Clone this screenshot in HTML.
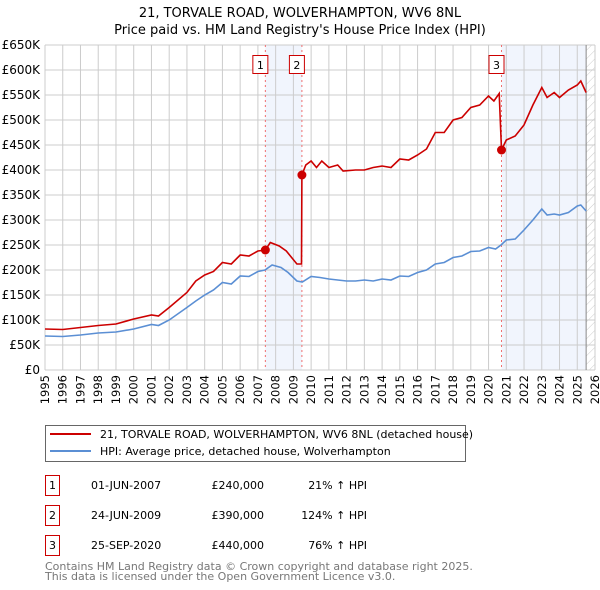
<!DOCTYPE html>
<html><head><meta charset="utf-8"><style>
body{margin:0;background:#fff;}
svg{display:block;font-family:"DejaVu Sans","Liberation Sans",sans-serif;}
</style></head><body>
<svg id="chart" width="600" height="590" viewBox="0 0 600 590">
<defs><pattern id="hatch" width="6" height="6" patternUnits="userSpaceOnUse" patternTransform="rotate(45)"><line x1="0" y1="0" x2="0" y2="6" stroke="#ccc" stroke-width="1"/></pattern></defs>
<text x="300" y="17" text-anchor="middle" font-size="13">21, TORVALE ROAD, WOLVERHAMPTON, WV6 8NL</text>
<text x="300" y="34" text-anchor="middle" font-size="13">Price paid vs. HM Land Registry's House Price Index (HPI)</text>
<g id="plot"></g>
<g>
<rect x="45.5" y="425.5" width="420" height="36" fill="#fff" stroke="#666"/>
<line x1="50" y1="434" x2="91" y2="434" stroke="#cc0000" stroke-width="2"/>
<text x="100" y="438" font-size="11">21, TORVALE ROAD, WOLVERHAMPTON, WV6 8NL (detached house)</text>
<line x1="50" y1="451" x2="91" y2="451" stroke="#5b8fd4" stroke-width="2"/>
<text x="100" y="455" font-size="11">HPI: Average price, detached house, Wolverhampton</text>
</g>
<g font-size="11">
<rect x="45.5" y="475.5" width="14" height="20" fill="#fff" stroke="#cc0000"/><text x="52.5" y="489" text-anchor="middle">1</text>
<text x="91" y="489">01-JUN-2007</text><text x="264" y="489" text-anchor="end">£240,000</text><text x="367" y="489" text-anchor="end">21% ↑ HPI</text>
<rect x="45.5" y="505.5" width="14" height="20" fill="#fff" stroke="#cc0000"/><text x="52.5" y="519" text-anchor="middle">2</text>
<text x="91" y="519">24-JUN-2009</text><text x="264" y="519" text-anchor="end">£390,000</text><text x="367" y="519" text-anchor="end">124% ↑ HPI</text>
<rect x="45.5" y="535.5" width="14" height="20" fill="#fff" stroke="#cc0000"/><text x="52.5" y="549" text-anchor="middle">3</text>
<text x="91" y="549">25-SEP-2020</text><text x="264" y="549" text-anchor="end">£440,000</text><text x="367" y="549" text-anchor="end">76% ↑ HPI</text>
</g>
<text x="45" y="570" font-size="11" fill="#777">Contains HM Land Registry data © Crown copyright and database right 2025.</text>
<text x="45" y="580" font-size="11" fill="#777">This data is licensed under the Open Government Licence v3.0.</text>
</svg>
<script>
const hpiYears=[1995,1996,1997,1998,1999,2000,2001,2001.4,2002,2003,2003.5,2004,2004.5,2005,2005.5,2006,2006.5,2007,2007.4,2007.8,2008.3,2008.7,2009.2,2009.5,2010,2010.5,2011,2011.5,2012,2012.5,2013,2013.5,2014,2014.5,2015,2015.5,2016,2016.5,2017,2017.5,2018,2018.5,2019,2019.5,2020,2020.4,2020.7,2021,2021.5,2022,2022.5,2023,2023.3,2023.7,2024,2024.5,2025,2025.2,2025.5];
const hpiValues=[68,67,70,74,76,82,91,89,100,125,138,150,160,175,172,188,187,197,200,210,205,195,178,176,187,185,182,180,178,178,180,178,182,180,188,187,195,200,212,215,225,228,237,238,245,242,250,260,262,280,300,322,310,312,310,315,328,330,318];
const redYears=[1995,1996,1997,1998,1999,2000,2001,2001.4,2002,2003,2003.5,2004,2004.5,2005,2005.5,2006,2006.5,2007,2007.42,2007.7,2008.2,2008.6,2009.2,2009.46,2009.48,2009.7,2010,2010.3,2010.6,2011,2011.5,2011.8,2012.5,2013,2013.5,2014,2014.5,2015,2015.5,2016,2016.5,2017,2017.5,2018,2018.5,2019,2019.5,2020,2020.3,2020.6,2020.73,2021,2021.5,2022,2022.5,2023,2023.3,2023.7,2024,2024.5,2025,2025.2,2025.5];
const redValues=[82,81,85,89,92,102,110,108,125,155,178,190,197,215,212,230,228,238,240,255,248,238,212,212,390,410,418,405,418,405,410,398,400,400,405,408,405,422,420,430,442,475,475,500,505,525,530,548,538,553,440,460,468,490,530,565,545,555,545,560,570,578,555];
const saleYears=[2007.42,2009.48,2020.73];
const saleValues=[240,390,440];
const saleLabels=["1","2","3"];
const yTicks=[0,50,100,150,200,250,300,350,400,450,500,550,600,650];
const xTicks=[1995,1996,1997,1998,1999,2000,2001,2002,2003,2004,2005,2006,2007,2008,2009,2010,2011,2012,2013,2014,2015,2016,2017,2018,2019,2020,2021,2022,2023,2024,2025,2026];
const X0=45,X1=595,Y0=370,Y1=45;
const xs=y=>X0+(y-1995)/(2026-1995)*(X1-X0);
const ys=v=>Y0-v/650*(Y0-Y1);
const NS="http://www.w3.org/2000/svg";
const g=document.getElementById('plot');
function mk(t,a){const e=document.createElementNS(NS,t);for(const k in a)e.setAttribute(k,a[k]);g.appendChild(e);return e;}
// shading
let e=mk('rect',{x:xs(saleYears[0]),y:Y1,width:xs(saleYears[1])-xs(saleYears[0]),height:Y0-Y1,fill:'#eef3fc',opacity:0.8});


e=mk('rect',{x:xs(saleYears[2]),y:Y1,width:xs(2025.5)-xs(saleYears[2]),height:Y0-Y1,fill:'#eef3fc',opacity:0.8});


e=mk('rect',{x:xs(2025.5),y:Y1,width:X1-xs(2025.5),height:Y0-Y1,fill:'url(#hatch)'});


// grid
xTicks.forEach(t=>{const l=mk('line',{x1:xs(t),x2:xs(t),y1:Y1,y2:Y0,stroke:'#ccc'});


const tx=mk('text',{x:0,y:0,'font-size':11.5,'text-anchor':'end',transform:`translate(${xs(t)+4},${Y0+5}) rotate(-90)`});tx.textContent=t;

});
yTicks.forEach(t=>{const l=mk('line',{x1:X0,x2:X1,y1:ys(t),y2:ys(t),stroke:'#ccc'});


const tx=mk('text',{x:40,y:ys(t)+4,'font-size':12,'text-anchor':'end'});tx.textContent=t===0?'£0':'£'+t+'K';

});
e=mk('line',{x1:xs(2025.5),x2:xs(2025.5),y1:Y1,y2:Y0,stroke:'#888'});


// sale vertical lines
saleYears.forEach((s,i)=>{const l=mk('line',{x1:xs(s),x2:xs(s),y1:Y1,y2:Y0,stroke:'#f07070','stroke-dasharray':'2,3'});


const r=mk('rect',{x:xs(s)-12.5,y:55.5,width:15,height:18,fill:'#fff',stroke:'#cc0000'});


const t=mk('text',{x:xs(s)-5,y:69,'font-size':11,'text-anchor':'middle'});t.textContent=saleLabels[i];

});
// series
const path=(xa,va)=>xa.map((x,i)=>(i?'L':'M')+xs(x).toFixed(1)+','+ys(va[i]).toFixed(1)).join('');
e=mk('path',{d:path(hpiYears,hpiValues),fill:'none',stroke:'#5b8fd4','stroke-width':1.6});


e=mk('path',{d:path(redYears,redValues),fill:'none',stroke:'#cc0000','stroke-width':1.6});


saleYears.forEach((s,i)=>{const c=mk('circle',{cx:xs(s),cy:ys(saleValues[i]),r:4.5,fill:'#cc0000'});

});
</script>
</body></html>
